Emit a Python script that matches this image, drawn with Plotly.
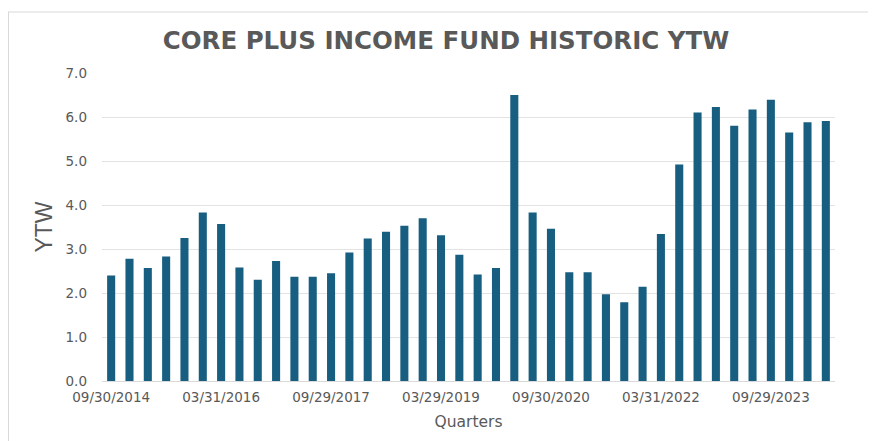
import plotly.graph_objects as go

quarters = [
    "09/30/2014", "12/31/2014", "03/31/2015", "06/30/2015", "09/30/2015", "12/31/2015",
    "03/31/2016", "06/30/2016", "09/30/2016", "12/30/2016", "03/31/2017", "06/30/2017",
    "09/29/2017", "12/29/2017", "03/29/2018", "06/29/2018", "09/28/2018", "12/31/2018",
    "03/29/2019", "06/28/2019", "09/30/2019", "12/31/2019", "03/31/2020", "06/30/2020",
    "09/30/2020", "12/31/2020", "03/31/2021", "06/30/2021", "09/30/2021", "12/31/2021",
    "03/31/2022", "06/30/2022", "09/30/2022", "12/30/2022", "03/31/2023", "06/30/2023",
    "09/29/2023", "12/29/2023", "03/28/2024", "06/28/2024",
]
ytw = [
    2.40, 2.78, 2.57, 2.83, 3.25, 3.83, 3.57, 2.58, 2.30, 2.73,
    2.37, 2.37, 2.45, 2.92, 3.24, 3.39, 3.53, 3.70, 3.31, 2.87,
    2.42, 2.57, 6.50, 3.83, 3.46, 2.47, 2.47, 1.97, 1.79, 2.14,
    3.34, 4.92, 6.10, 6.23, 5.80, 6.17, 6.39, 5.65, 5.88, 5.91,
]
tick_labels = quarters[::6]
y_ticks = [0, 1, 2, 3, 4, 5, 6, 7]

gray = "#595959"
fig = go.Figure(go.Bar(x=quarters, y=ytw, marker=dict(color="#175e80", line=dict(width=0))))

OFF = 8  # page body margin
W, H = 876, 441
L, T = 102 - OFF, 73 - OFF
R = W - (835 - OFF)
B = H - (381 - OFF)
pw, ph = W - L - R, H - T - B

fig.update_layout(
    width=W, height=H,
    margin=dict(l=L, r=R, t=T, b=B),
    paper_bgcolor="white", plot_bgcolor="white",
    bargap=0.56,
    showlegend=False,
    font=dict(family="DejaVu Sans, sans-serif", color=gray),
    title=dict(
        text="<b>CORE PLUS INCOME FUND HISTORIC YTW</b>",
        x=(446 - OFF - L) / pw, xref="paper", xanchor="center",
        y=1 - (40 - OFF) / H, yref="container", yanchor="middle",
        font=dict(family="DejaVu Sans, sans-serif", size=24.5, color=gray),
    ),
    xaxis=dict(
        type="category",
        tickmode="array", tickvals=tick_labels, ticktext=tick_labels,
        tickfont=dict(family="DejaVu Sans, sans-serif", size=13.5, color=gray),
        showgrid=False, showline=True, linecolor="#d9d9d9", linewidth=1,
        ticks="", ticklabelstandoff=4,
        title=dict(text="Quarters", font=dict(family="DejaVu Sans, sans-serif", size=15.5, color=gray), standoff=11),
        range=[-0.5, len(quarters) - 0.5],
    ),
    yaxis=dict(
        range=[0, 7], tickvals=y_ticks, ticktext=[f"{v:.1f}" for v in y_ticks],
        tickfont=dict(family="DejaVu Sans, sans-serif", size=13.5, color=gray),
        showgrid=True, gridcolor="#e3e3e3", gridwidth=1,
        zeroline=False, showline=False, ticks="", ticklabelstandoff=14,
        title=dict(text="YTW", font=dict(family="Liberation Sans, Arial, sans-serif", size=23, color=gray), standoff=6),
    ),
    shapes=[
        dict(type="line", xref="paper", yref="paper",
             x0=(8 - OFF - L) / pw, x1=1.2, y0=1 + (T - (12 - OFF)) / ph, y1=1 + (T - (12 - OFF)) / ph,
             line=dict(color="#d9d9d9", width=1)),
        dict(type="line", xref="paper", yref="paper",
             x0=(8.5 - OFF - L) / pw, x1=(8.5 - OFF - L) / pw, y0=1 + (T - (12 - OFF)) / ph, y1=-0.4,
             line=dict(color="#d9d9d9", width=1)),
    ],
)

fig.write_html("out.html")
